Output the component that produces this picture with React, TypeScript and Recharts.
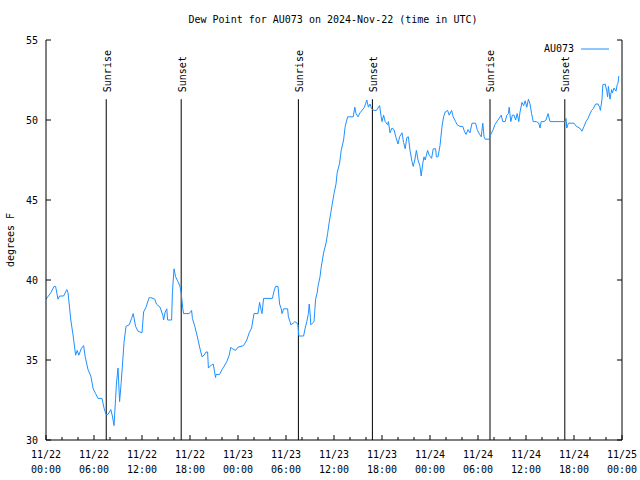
import React from 'react';
import { LineChart, Line, XAxis, YAxis, ReferenceLine, Legend } from 'recharts';

// Hours since 2024-11-22 00:00 UTC
const hours = [
  0.0, 0.6, 1.0, 1.2, 1.5, 1.7, 2.2, 2.6, 2.75, 2.9, 3.1, 3.4, 3.7, 3.9, 4.1, 4.4, 4.7, 4.9, 5.25, 5.6,
  5.9, 6.2, 6.5, 7.0, 7.25, 7.5, 7.75, 8.1, 8.3, 8.5, 8.7, 8.8, 9.0, 9.2, 9.4, 9.6, 9.75, 10.0, 10.4, 10.7,
  10.9, 11.2, 11.5, 12.0, 12.2, 12.5, 12.9, 13.1, 13.6, 13.8, 14.25, 14.6, 14.7, 14.9, 15.1, 15.2, 15.7, 15.8, 16.0, 16.2,
  16.5, 16.75, 16.9, 17.1, 17.2, 17.9, 18.2, 18.3, 18.6, 18.9, 19.25, 19.5, 19.75, 20.0, 20.2, 20.3, 20.7, 20.9, 21.2, 21.25,
  21.7, 22.0, 22.25, 22.6, 22.9, 23.1, 23.3, 23.7, 24.0, 24.7, 25.1, 25.4, 25.7, 26.0, 26.5, 26.7, 26.9, 27.0, 27.2, 28.3,
  28.5, 28.7, 29.0, 29.2, 29.4, 29.5, 29.7, 30.2, 30.3, 30.5, 30.6, 30.9, 31.1, 31.4, 31.5, 31.6, 32.2, 32.4, 32.6, 32.8,
  32.9, 33.0, 33.1, 33.3, 33.5, 33.6, 33.7, 33.9, 34.0, 34.25, 34.4, 34.7, 35.0, 35.2, 35.4, 35.6, 35.8, 36.0, 36.25, 36.4,
  36.7, 36.9, 37.2, 37.4, 37.7, 38.4, 38.6, 38.75, 39.0, 39.25, 39.5, 39.8, 40.1, 40.3, 40.5, 40.7, 41.0, 41.3, 41.7, 41.9,
  42.0, 42.2, 42.4, 42.7, 42.8, 43.0, 43.25, 43.5, 43.75, 44.0, 44.2, 44.5, 44.7, 44.9, 45.1, 45.3, 45.5, 45.75, 45.9, 46.1,
  46.3, 46.5, 46.75, 46.9, 47.1, 47.25, 47.4, 47.7, 47.9, 48.2, 48.4, 48.7, 48.8, 49.0, 49.25, 49.5, 49.7, 49.9, 50.2, 50.4,
  50.7, 50.9, 51.2, 51.4, 51.75, 52.1, 52.3, 52.5, 52.75, 53.0, 53.25, 53.7, 53.9, 54.2, 54.4, 54.6, 54.75, 54.9, 55.4, 55.6,
  55.9, 56.1, 56.5, 56.9, 57.1, 57.4, 57.6, 57.8, 57.9, 58.1, 58.3, 58.5, 58.7, 58.9, 59.1, 59.25, 59.5, 59.7, 59.9, 60.1,
  60.3, 60.5, 60.7, 60.9, 61.3, 61.6, 61.75, 61.9, 62.25, 62.5, 62.75, 63.0, 64.9, 65.0, 65.1, 65.3, 65.6, 66.0, 66.3, 66.7,
  67.0, 67.25, 67.5, 67.75, 68.0, 68.2, 68.4, 68.7, 69.0, 69.2, 69.3, 69.5, 69.6, 69.9, 70.1, 70.2, 70.3, 70.5, 70.7, 70.8,
  71.0, 71.25, 71.4, 71.5, 71.6,
];

// Dew point, degrees F
const dewPoint = [
  38.8, 39.2, 39.6, 39.6, 38.8, 39.0, 39.0, 39.4, 39.2, 38.5, 37.5, 36.5, 35.3, 35.6, 35.3, 35.7, 35.9, 35.2, 34.4, 34.0,
  33.2, 32.9, 32.6, 32.6, 32.0, 31.6, 31.6, 31.9, 31.5, 30.9, 32.6, 33.5, 34.5, 32.4, 33.6, 35.0, 36.1, 37.1, 37.2, 37.6,
  37.9, 37.1, 36.8, 36.7, 38.0, 38.3, 38.9, 38.9, 38.8, 38.5, 38.3, 37.8, 37.5, 38.0, 38.2, 37.5, 37.5, 39.2, 40.7, 40.2,
  39.9, 39.6, 39.2, 38.2, 37.9, 37.9, 38.1, 37.6, 37.1, 36.5, 35.7, 35.2, 35.3, 35.5, 35.5, 34.5, 34.7, 34.75, 33.9, 34.1,
  34.1, 34.4, 34.6, 34.9, 35.3, 35.8, 35.7, 35.6, 35.8, 35.9, 36.25, 36.7, 37.0, 37.9, 37.9, 38.6, 38.1, 37.9, 38.85, 38.85,
  39.3, 39.6, 39.6, 38.5, 38.2, 37.9, 38.2, 38.2, 37.7, 37.4, 37.2, 37.3, 37.4, 37.3, 37.2, 36.5, 36.5, 37.0, 37.4, 37.9,
  38.5, 38.0, 37.2, 37.3, 37.4, 38.1, 38.8, 39.2, 39.6, 40.2, 40.8, 41.7, 42.3, 42.9, 43.6, 44.2, 44.8, 45.4, 46.0, 46.7,
  47.3, 48.1, 48.75, 49.6, 50.2, 50.2, 50.8, 50.4, 50.2, 50.45, 50.6, 50.8, 51.25, 50.8, 51.0, 50.7, 50.6, 50.6, 50.9, 50.2,
  49.9, 50.3, 49.9, 49.7, 49.9, 49.2, 49.5, 49.4, 48.9, 48.5, 48.95, 49.2, 48.6, 48.2, 48.9, 48.95, 48.1, 47.4, 47.1, 47.5,
  48.1, 47.5, 47.1, 46.5, 47.3, 47.7, 47.5, 48.1, 47.8, 47.6, 48.2, 48.2, 47.7, 47.7, 48.4, 49.6, 50.2, 50.5, 50.6, 50.3,
  50.6, 50.2, 49.9, 49.7, 49.6, 49.6, 49.3, 49.1, 49.4, 49.2, 49.8, 49.8, 49.4, 49.1, 48.95, 49.8, 48.95, 48.8, 48.8, 49.1,
  49.4, 49.7, 50.0, 50.3, 49.9, 49.9, 50.3, 50.4, 50.8, 49.9, 50.3, 50.3, 50.0, 50.4, 49.9, 50.5, 51.1, 50.9, 51.2, 50.8,
  51.3, 51.0, 50.4, 49.9, 49.9, 49.8, 49.5, 49.9, 49.9, 50.0, 50.4, 49.9, 49.9, 50.1, 49.5, 49.8, 49.8, 49.8, 49.6, 49.5,
  49.3, 49.6, 49.9, 50.1, 50.4, 50.6, 50.7, 51.0, 51.0, 50.8, 50.6, 51.3, 52.2, 52.25, 51.8, 51.45, 52.1, 51.3, 51.9, 51.7,
  52.0, 51.8, 52.2, 52.3, 52.75,
];

const xTickValues = [0, 2, 4, 6, 8, 10, 12, 14, 16, 18, 20, 22, 24, 26, 28, 30, 32, 34, 36, 38, 40, 42, 44, 46, 48, 50, 52, 54, 56, 58, 60, 62, 64, 66, 68, 70, 72];
const dateLabels = ['11/22', '11/22', '11/22', '11/22', '11/23', '11/23', '11/23', '11/23', '11/24', '11/24', '11/24', '11/24', '11/25'];
const timeLabels = ['00:00', '06:00', '12:00', '18:00', '00:00', '06:00', '12:00', '18:00', '00:00', '06:00', '12:00', '18:00', '00:00'];
const yTickValues = [30, 35, 40, 45, 50, 55];

const sunEventHours = [7.53, 16.9, 31.55, 40.8, 55.5, 64.85];
const sunEventLabels = ['Sunrise', 'Sunset', 'Sunrise', 'Sunset', 'Sunrise', 'Sunset'];
const sunLineTop = 51.3;

const seriesName = 'AU073';
const title = 'Dew Point for AU073 on 2024-Nov-22 (time in UTC)';
const yLabel = 'degrees F';

const FONT = '"DejaVu Sans Mono", "Liberation Mono", monospace';
const LINE_COLOR = '#1E90FF';

const data = hours.map((h, i) => ({ h, dew: dewPoint[i] }));

const BottomTick = (props: any) => {
  const { x, y, payload } = props;
  const v = payload.value as number;
  const major = v % 6 === 0;
  const idx = Math.round(v / 6);
  return (
    <g>
      <line x1={x} y1={y} x2={x} y2={y - (major ? 5 : 3)} stroke="#000" />
      {major && (
        <text x={x} y={y + 18} textAnchor="middle" fontFamily={FONT} fontSize={10} fill="#000">
          {dateLabels[idx]}
        </text>
      )}
      {major && (
        <text x={x} y={y + 33} textAnchor="middle" fontFamily={FONT} fontSize={10} fill="#000">
          {timeLabels[idx]}
        </text>
      )}
    </g>
  );
};

const TopTick = (props: any) => {
  const { x, y, payload } = props;
  const major = (payload.value as number) % 6 === 0;
  return <line x1={x} y1={y} x2={x} y2={y + (major ? 5 : 3)} stroke="#000" />;
};

const LeftTick = (props: any) => {
  const { x, y, payload } = props;
  return (
    <g>
      <line x1={x} y1={y} x2={x + 5} y2={y} stroke="#000" />
      <text x={x - 8} y={y + 4} textAnchor="end" fontFamily={FONT} fontSize={10} fill="#000">
        {payload.value}
      </text>
    </g>
  );
};

const RightTick = (props: any) => {
  const { x, y } = props;
  return <line x1={x} y1={y} x2={x - 5} y2={y} stroke="#000" />;
};

const SunLabel = (props: any) => {
  const vb = props.viewBox || {};
  const x = (vb.x ?? 0) + 1;
  const y = (vb.y ?? 0) - 7;
  return (
    <text
      x={x}
      y={y}
      transform={`rotate(-90, ${x}, ${y})`}
      textAnchor="start"
      dominantBaseline="central"
      fontFamily={FONT}
      fontSize={10}
      fill="#000"
    >
      {props.text}
    </text>
  );
};

const LegendContent = () => (
  <div style={{ display: 'flex', alignItems: 'center', fontFamily: FONT, fontSize: 10, color: '#000', lineHeight: '12px' }}>
    <span style={{ width: 36, textAlign: 'right' }}>{seriesName}</span>
    <svg width={36} height={12} style={{ display: 'block' }}>
      <line x1={7} y1={6} x2={35} y2={6} stroke={LINE_COLOR} strokeWidth={1} />
    </svg>
  </div>
);

export default function App() {
  return (
    <div style={{ position: 'absolute', left: 0, top: 0, width: 640, height: 480, background: '#fff' }}>
      <div
        style={{
          position: 'absolute',
          left: 0,
          top: 14,
          width: 666,
          textAlign: 'center',
          fontFamily: FONT,
          fontSize: 10,
          lineHeight: '12px',
          color: '#000',
        }}
      >
        {title}
      </div>
      <div
        style={{
          position: 'absolute',
          left: 11,
          top: 240,
          transform: 'translate(-50%, -50%) rotate(-90deg)',
          fontFamily: FONT,
          fontSize: 10,
          lineHeight: '12px',
          color: '#000',
          whiteSpace: 'nowrap',
        }}
      >
        {yLabel}
      </div>
      <LineChart width={640} height={480} data={data} margin={{ top: 40, right: 0, bottom: 0, left: 0 }}>
        <XAxis
          xAxisId="b"
          dataKey="h"
          type="number"
          domain={[0, 72]}
          ticks={xTickValues}
          interval={0}
          height={40}
          tickSize={0}
          tickMargin={0}
          tickLine={false}
          axisLine={{ stroke: '#000' }}
          tick={<BottomTick />}
          allowDataOverflow
        />
        <XAxis
          xAxisId="t"
          orientation="top"
          type="number"
          domain={[0, 72]}
          ticks={xTickValues}
          interval={0}
          height={0}
          tickSize={0}
          tickMargin={0}
          tickLine={false}
          axisLine={{ stroke: '#000' }}
          tick={<TopTick />}
          allowDataOverflow
        />
        <YAxis
          yAxisId="l"
          type="number"
          domain={[30, 55]}
          ticks={yTickValues}
          interval={0}
          width={46}
          tickSize={0}
          tickMargin={0}
          tickLine={false}
          axisLine={{ stroke: '#000' }}
          tick={<LeftTick />}
          allowDataOverflow
        />
        <YAxis
          yAxisId="r"
          orientation="right"
          type="number"
          domain={[30, 55]}
          ticks={yTickValues}
          interval={0}
          width={18}
          tickSize={0}
          tickMargin={0}
          tickLine={false}
          axisLine={{ stroke: '#000' }}
          tick={<RightTick />}
          allowDataOverflow
        />
        {sunEventHours.map((h, i) => (
          <ReferenceLine
            key={`sun-${i}`}
            xAxisId="b"
            yAxisId="l"
            segment={[
              { x: h, y: 30 },
              { x: h, y: sunLineTop },
            ]}
            stroke="#000"
            strokeWidth={1}
            label={<SunLabel text={sunEventLabels[i]} />}
          />
        ))}
        <Line
          xAxisId="b"
          yAxisId="l"
          type="linear"
          dataKey="dew"
          name={seriesName}
          stroke={LINE_COLOR}
          strokeWidth={1}
          dot={false}
          activeDot={false}
          isAnimationActive={false}
        />
        <Legend
          layout="horizontal"
          verticalAlign="middle"
          align="center"
          content={<LegendContent />}
          wrapperStyle={{ top: 43, left: 538, width: 80, height: 12 }}
        />
      </LineChart>
    </div>
  );
}
